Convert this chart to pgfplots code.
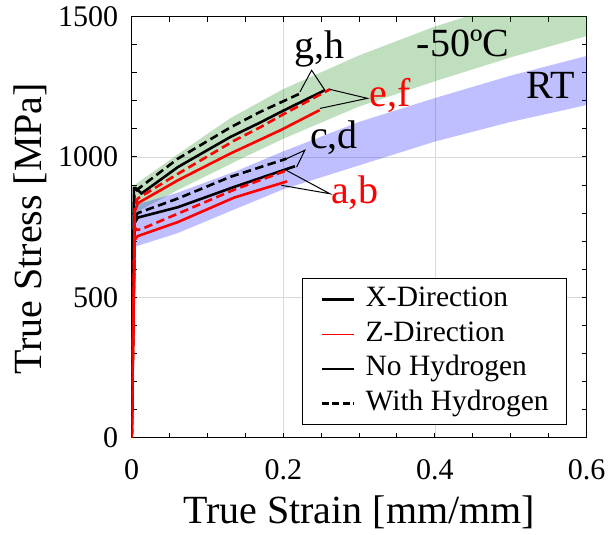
\documentclass[border=0pt]{standalone}
\usepackage{fontspec}
\setmainfont{Liberation Serif}
\usepackage{pgfplots}
\pgfplotsset{compat=1.18}
\definecolor{gband}{RGB}{0,128,0}
\definecolor{bband}{RGB}{0,0,255}
\begin{document}
\begin{tikzpicture}
\path[use as bounding box] (-131.7pt,-97.3pt) rectangle (479.5pt,437.7pt);
\begin{axis}[
  at={(0,0)}, anchor=south west,
  scale only axis, width=455pt, height=421pt,
  xmin=0, xmax=0.6, ymin=0, ymax=1500,
  xtick={0,0.2,0.4,0.6}, xticklabels={0,0.2,0.4,0.6},
  ytick={0,500,1000,1500}, yticklabels={0,500,1000,1500},
  minor x tick num=3, minor y tick num=4,
  tick align=inside, major tick length=5pt, minor tick length=5pt,
  every tick/.style={black, line width=1pt},
  axis line style={line width=1.3pt},
  grid=major, major grid style={black!15, line width=0.6pt},
  ticklabel style={font=\fontsize{30}{34}\selectfont},
  yticklabel style={anchor=east, inner sep=0pt, xshift=-13.4pt},
  xticklabel style={anchor=north, inner sep=0pt, yshift=-22.3pt},
  xlabel={True Strain [mm/mm]},
  xlabel style={at={(axis description cs:0.5,-0.205)}, anchor=base, inner sep=0pt, font=\fontsize{40}{44}\selectfont},
  ylabel={True Stress [MPa]},
  ylabel style={at={(axis description cs:-0.1978,0.496)}, anchor=base, inner sep=0pt, font=\fontsize{40}{44}\selectfont},
  legend image code/.code={\draw[#1] (0pt,0pt) -- (32pt,0pt);},
  legend cell align=left,
  legend style={at={(0.9574,0.0302)}, anchor=south east, draw=black, line width=0.8pt, fill=white,
    inner xsep=18pt, inner ysep=7.3pt, row sep=7.7pt, column sep=10.3pt,
    font=\fontsize{29.5}{33}\selectfont,
    nodes={inner sep=0pt, text height=20.5pt, text depth=6.5pt}},
]
% bands
\addplot[draw=none, fill=gband, fill opacity=0.25, forget plot] coordinates {
 (0.004,900) (0.06,1008) (0.13,1138) (0.2,1242) (0.3,1362) (0.4,1465) (0.5,1550) (0.6,1630)
 (0.6,1431) (0.5,1355) (0.4,1270) (0.3,1180) (0.2,1065) (0.14,988) (0.06,881) (0.004,800)} -- cycle;
\addplot[draw=none, fill=bband, fill opacity=0.25, forget plot] coordinates {
 (0.004,828) (0.06,872) (0.14,952) (0.2,1020) (0.3,1125) (0.4,1210) (0.5,1290) (0.6,1360)
 (0.6,1185) (0.5,1125) (0.4,1055) (0.3,970) (0.2,885) (0.14,818) (0.06,728) (0.004,680)} -- cycle;
% lower group (RT)
\addplot[black, line width=2.6pt, forget plot] coordinates {
 (0,0) (0.004,765) (0.008,784) (0.061,821) (0.135,893) (0.2154,967)};
\addplot[black, line width=2.6pt, dash pattern=on 8.5pt off 4.5pt, forget plot] coordinates {
 (0,0) (0.004,780) (0.008,800) (0.061,852) (0.13,929) (0.2044,994)};
\addplot[red, line width=2.6pt, forget plot] coordinates {
 (0,0) (0.004,705) (0.008,718) (0.061,768) (0.135,855) (0.205,913)};
\addplot[red, line width=2.6pt, dash pattern=on 8.5pt off 4.5pt, forget plot] coordinates {
 (0,0) (0.004,748) (0.007,740) (0.012,742) (0.061,798) (0.135,883) (0.2044,952)};
% upper group (-50C)
\addplot[black, line width=2.6pt, forget plot] coordinates {
 (0,0) (0.003,890) (0.005,890) (0.013,870) (0.061,964) (0.13,1071) (0.169,1122) (0.2,1165) (0.255,1238)};
\addplot[black, line width=2.6pt, dash pattern=on 8.5pt off 4.5pt, forget plot] coordinates {
 (0,0) (0.0035,870) (0.008,885) (0.061,994) (0.13,1105) (0.169,1160) (0.222,1226)};
\addplot[red, line width=2.6pt, forget plot] coordinates {
 (0,0) (0.004,805) (0.008,835) (0.061,917) (0.13,1012) (0.196,1095) (0.248,1167)};
\addplot[red, line width=2.6pt, dash pattern=on 8.5pt off 4.5pt, forget plot] coordinates {
 (0,0) (0.004,825) (0.008,852) (0.061,940) (0.135,1058) (0.169,1105) (0.2,1152) (0.262,1242)};
% legend
\addlegendimage{black, line width=2.8pt}
\addlegendentry{X-Direction}
\addlegendimage{red, line width=1.3pt}
\addlegendentry{Z-Direction}
\addlegendimage{black, line width=2.8pt}
\addlegendentry{No Hydrogen}
\addlegendimage{black, line width=2.8pt, dash pattern=on 7pt off 3.5pt}
\addlegendentry{With Hydrogen}
% leaders
\draw[black, line width=1pt] (axis cs:0.222,1232) -- (axis cs:0.2374,1309) -- (axis cs:0.2549,1238);
\draw[black, line width=1pt] (axis cs:0.2615,1241) -- (axis cs:0.311,1209) -- (axis cs:0.2483,1173);
\draw[black, line width=1pt] (axis cs:0.2044,994) -- (axis cs:0.2285,1024) -- (axis cs:0.2176,964);
\draw[black, line width=1pt] (axis cs:0.2044,952) -- (axis cs:0.2615,869) -- (axis cs:0.1975,899);
% labels
\node[anchor=base, font=\fontsize{40}{44}\selectfont] at (axis cs:0.2484,1351) {g,h};
\node[anchor=base, red, font=\fontsize{40}{44}\selectfont] at (axis cs:0.3406,1179) {e,f};
\node[anchor=base, font=\fontsize{40}{44}\selectfont] at (axis cs:0.267,1030) {c,d};
\node[anchor=base, red, font=\fontsize{40}{44}\selectfont] at (axis cs:0.2945,834) {a,b};
\node[anchor=base, font=\fontsize{40}{44}\selectfont] at (axis cs:0.4373,1357) {-50ºC};
\node[anchor=base, font=\fontsize{40}{44}\selectfont] at (axis cs:0.5527,1209) {RT};
\end{axis}
\end{tikzpicture}
\end{document}
